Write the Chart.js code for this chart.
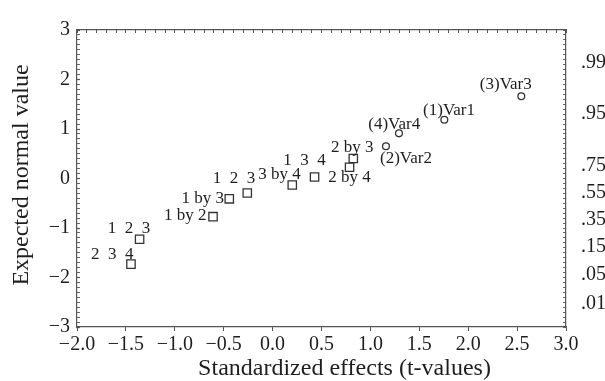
<!DOCTYPE html>
<html><head><meta charset="utf-8">
<script src="https://cdn.jsdelivr.net/npm/chart.js@4/dist/chart.umd.min.js"></script>
<style>html,body{margin:0;padding:0;background:#fff}#wrap{width:605px;height:381px}</style>
</head><body><div id="wrap"><canvas id="c" width="605" height="381"></canvas></div>
<script>
// ---- data ----
const effectLabels = ["2  3  4","1  2  3","1 by 2","1 by 3","1  2  3","3 by 4","1  3  4","2 by 4","2 by 3"];
const effectT = [-1.448,-1.360,-0.609,-0.443,-0.259,0.201,0.429,0.787,0.825];
const effectZ = [-1.730,-1.227,-0.771,-0.411,-0.294,-0.131,0.031,0.227,0.403];
const mainLabels = ["(2)Var2","(4)Var4","(1)Var1","(3)Var3"];
const mainT = [1.159,1.292,1.756,2.543];
const mainZ = [0.652,0.912,1.186,1.663];
const xTicks = [-2.0,-1.5,-1.0,-0.5,0.0,0.5,1.0,1.5,2.0,2.5,3.0];
const yTicks = [-3,-2,-1,0,1,2,3];
const probLabels = [".99",".95",".75",".55",".35",".15",".05",".01"];
const probPositions = [2.335,1.317,0.25,-0.28,-0.83,-1.37,-1.95,-2.54];
const xTitle = 'Standardized effects (t-values)';
const yTitle = 'Expected normal value';

// ---- label placement (style) ----
const effectOffsets = [[-18.7,-10],[-10.5,-11],[-27.7,-1],[-26.5,-0.5],[-13.2,-15],[-12.7,-10],[-10,-16],[0,10],[-1,-11]];
const mainOffsets = [[20,12.7],[-4.7,-8.4],[4.7,-9.4],[-15.5,-11.6]];

const FONT = '"Liberation Serif", "Times New Roman", serif';
const TXT = '#1e1e1e';
const AX = '#555';
const minusify = s => String(s).replace('-', '\u2212');
const steps = (a, b, s) => { const r = []; for (let i = Math.round(a / s); i <= Math.round(b / s); i++) r.push(+(i * s).toFixed(4)); return r; };

const textLayer = {
  id: 'textLayer',
  afterDatasetsDraw(chart) {
    const ctx = chart.ctx;
    const a = chart.chartArea;
    ctx.save();
    ctx.fillStyle = TXT;
    ctx.textAlign = 'center';
    ctx.textBaseline = 'middle';
    // point labels
    ctx.font = '17px ' + FONT;
    [[0, effectLabels, effectOffsets], [1, mainLabels, mainOffsets]].forEach(([di, labels, offs]) => {
      chart.getDatasetMeta(di).data.forEach((pt, i) => {
        ctx.fillText(labels[i], pt.x + offs[i][0], pt.y + offs[i][1]);
      });
    });
    // axis titles
    ctx.font = '24px ' + FONT;
    ctx.fillText(xTitle, (a.left + a.right) / 2 + 23, chart.height - 12);
    ctx.translate(22, (a.top + a.bottom) / 2 - 3.5);
    ctx.rotate(-Math.PI / 2);
    ctx.fillText(yTitle, 0, 0);
    ctx.restore();
  }
};

new Chart(document.getElementById('c'), {
  type: 'scatter',
  data: {
    datasets: [
      { label: 'Interactions', data: effectT.map((x, i) => ({ x, y: effectZ[i] })),
        pointStyle: 'rect', radius: 5.9, borderWidth: 1.3, borderColor: '#333', backgroundColor: 'rgba(255,255,255,0)' },
      { label: 'Main effects', data: mainT.map((x, i) => ({ x, y: mainZ[i] })),
        pointStyle: 'circle', radius: 3.4, borderWidth: 1.3, borderColor: '#333', backgroundColor: 'rgba(255,255,255,0)' }
    ]
  },
  options: {
    responsive: false,
    animation: false,
    devicePixelRatio: 1,
    events: [],
    layout: { padding: 0 },
    plugins: { legend: { display: false }, tooltip: { enabled: false } },
    scales: {
      x: {
        type: 'linear', position: 'bottom', min: -2, max: 3,
        afterBuildTicks: s => { s.ticks = xTicks.map(v => ({ value: v })); },
        afterFit: s => { s.height = 54; },
        grid: { drawOnChartArea: false, drawTicks: true, tickLength: 4, tickColor: AX, tickWidth: 1 },
        border: { display: true, color: AX, width: 1.2 },
        ticks: { autoSkip: false, maxRotation: 0, padding: 2, color: TXT,
                 font: { family: FONT, size: 20, lineHeight: 1.2 },
                 callback: v => minusify(Number(v).toFixed(1)) }
      },
      x2: {
        type: 'linear', position: 'top', min: -2, max: 3,
        afterBuildTicks: s => { s.ticks = steps(-2, 3, 0.1).map(v => ({ value: v })); },
        afterFit: s => { s.height = 20; },
        grid: { drawOnChartArea: false, drawTicks: true, tickLength: -3, tickColor: AX, tickWidth: 1 },
        border: { display: true, color: AX, width: 1.2 },
        ticks: { display: false, autoSkip: false }
      },
      y: {
        type: 'linear', position: 'left', min: -3, max: 3, weight: 10,
        afterBuildTicks: s => { s.ticks = steps(-3, 3, 0.1).map(v => ({ value: v, major: yTicks.includes(v) })); },
        afterFit: s => { s.width = 77; },
        grid: { drawOnChartArea: false, drawTicks: true, tickLength: -3, tickColor: AX,
                tickWidth: c => (c.tick && c.tick.major ? 1.2 : 0.9) },
        border: { display: true, color: AX, width: 1.2 },
        ticks: { autoSkip: false, padding: 10, color: TXT, font: { family: FONT, size: 20, lineHeight: 1.2 },
                 callback: (v, i, t) => (t[i].major ? minusify(Math.round(v)) : '') }
      },
      yR: {
        type: 'linear', position: 'right', min: -3, max: 3,
        afterBuildTicks: s => {
          s.ticks = steps(-3, 3, 0.1).map(v => ({ value: v }))
            .concat(probPositions.map((v, i) => ({ value: v, prob: probLabels[i] })));
        },
        afterFit: s => { s.width = 39; },
        grid: { drawOnChartArea: false, drawTicks: true, tickLength: -3, tickWidth: 0.9,
                tickColor: c => (c.tick && c.tick.prob ? 'rgba(0,0,0,0)' : AX) },
        border: { display: true, color: AX, width: 1.2 },
        ticks: { autoSkip: false, padding: 18, color: TXT, font: { family: FONT, size: 20, lineHeight: 1.2 },
                 callback: (v, i, t) => t[i].prob || '' }
      }
    }
  },
  plugins: [textLayer]
});
</script>
</body></html>
